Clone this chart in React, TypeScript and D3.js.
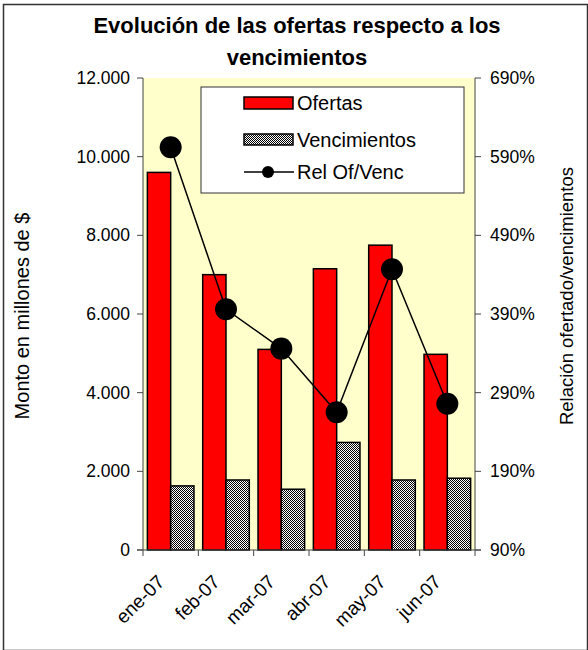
import React from "react";
import * as d3 from "d3";

const categories = ["ene-07", "feb-07", "mar-07", "abr-07", "may-07", "jun-07"];
const ofertas = [9600, 7000, 5100, 7150, 7750, 4975];
const vencimientos = [1630, 1780, 1545, 2735, 1780, 1825];
const relacion = [602, 396, 346, 265, 447, 276];
const leftTicks = [0, 2000, 4000, 6000, 8000, 10000, 12000];
const rightTicks = [90, 190, 290, 390, 490, 590, 690];
const seriesNames = ["Ofertas", "Vencimientos", "Rel Of/Venc"];
const titleLines = ["Evolución de las ofertas respecto a los", "vencimientos"];
const leftTitle = "Monto en millones de $";
const rightTitle = "Relación ofertado/vencimientos";

const FONT = "'Liberation Sans', Arial, Helvetica, sans-serif";

export default function App() {
  const W = 588;
  const H = 650;
  const left = 143;
  const right = 475;
  const top = 78;
  const bottom = 550;

  const x = d3.scaleBand<string>().domain(categories).range([left, right]).paddingInner(0).paddingOuter(0);
  const inner = d3
    .scaleBand<string>()
    .domain(["of", "ve"])
    .range([0, x.bandwidth()])
    .paddingInner(0)
    .paddingOuter(0.1875);
  const yL = d3.scaleLinear().domain([0, 12000]).range([bottom, top]);
  const yR = d3.scaleLinear().domain([90, 690]).range([bottom, top]);
  const loc = d3.formatLocale({ decimal: ",", thousands: ".", grouping: [3], currency: ["$", ""] });
  const fmt = loc.format(",d");

  const line = d3
    .line<number>()
    .x((_, i) => (x(categories[i]) as number) + x.bandwidth() / 2)
    .y((d) => yR(d));

  const bounds = [...categories.map((c) => x(c) as number), right];

  return (
    <svg width={W} height={H} style={{ position: "absolute", left: 0, top: 0 }} fontFamily={FONT}>
      <defs>
        <pattern id="checker" width={2} height={2} patternUnits="userSpaceOnUse">
          <rect x={0} y={0} width={2} height={2} fill="#ffffff" />
          <rect x={0} y={0} width={1} height={1} fill="#000000" />
          <rect x={1} y={1} width={1} height={1} fill="#000000" />
        </pattern>
      </defs>
      <rect x={0} y={0} width={W} height={H} fill="#ffffff" />
      <rect x={3.5} y={4.5} width={584} height={646} fill="none" stroke="#333" strokeWidth={1.5} />

      {/* Title */}
      {titleLines.map((t, i) => (
        <text key={i} x={297} y={33 + i * 32} textAnchor="middle" fontWeight="bold" fontSize={22} fill="#000">
          {t}
        </text>
      ))}

      {/* Plot area */}
      <rect x={left} y={top} width={right - left} height={bottom - top} fill="#FFFFCC" />

      {/* Bars */}
      {categories.map((c, i) => (
        <g key={c}>
          <rect
            x={(x(c) as number) + (inner("of") as number)}
            y={yL(ofertas[i])}
            width={inner.bandwidth()}
            height={bottom - yL(ofertas[i])}
            fill="#FF0000"
            stroke="#000"
            strokeWidth={1.5}
          />
          <rect
            x={(x(c) as number) + (inner("ve") as number)}
            y={yL(vencimientos[i])}
            width={inner.bandwidth()}
            height={bottom - yL(vencimientos[i])}
            fill="url(#checker)"
            stroke="#000"
            strokeWidth={1.5}
          />
        </g>
      ))}

      {/* Line */}
      <path d={line(relacion) || ""} fill="none" stroke="#000" strokeWidth={1.5} />
      {relacion.map((v, i) => (
        <circle key={i} cx={(x(categories[i]) as number) + x.bandwidth() / 2} cy={yR(v)} r={11} fill="#000" />
      ))}

      {/* Left axis */}
      <line x1={left} x2={left} y1={top} y2={bottom} stroke="#444" strokeWidth={1} />
      {leftTicks.map((t) => (
        <g key={t}>
          <line x1={left - 6} x2={left} y1={yL(t)} y2={yL(t)} stroke="#444" />
          <text x={left - 13} y={yL(t)} dy="0.35em" textAnchor="end" fontSize={17.5} fill="#000">
            {fmt(t)}
          </text>
        </g>
      ))}

      {/* Right axis */}
      <line x1={right} x2={right} y1={top} y2={bottom} stroke="#444" strokeWidth={1} />
      {rightTicks.map((t) => (
        <g key={t}>
          <line x1={right} x2={right + 6} y1={yR(t)} y2={yR(t)} stroke="#444" />
          <text x={right + 15} y={yR(t)} dy="0.35em" textAnchor="start" fontSize={17.5} fill="#000">
            {t + "%"}
          </text>
        </g>
      ))}

      {/* Bottom axis */}
      <line x1={left - 6} x2={right + 6} y1={bottom} y2={bottom} stroke="#444" strokeWidth={1} />
      {bounds.map((b, i) => (
        <line key={i} x1={b} x2={b} y1={bottom} y2={bottom + 6} stroke="#444" />
      ))}
      {categories.map((c) => (
        <text
          key={c}
          transform={`translate(${(x(c) as number) + x.bandwidth() / 2 - 5},${583}) rotate(-45)`}
          textAnchor="end"
          fontSize={19}
          fill="#000"
        >
          {c}
        </text>
      ))}

      {/* Axis titles */}
      <text transform={`translate(22,316) rotate(-90)`} textAnchor="middle" dy="0.35em" fontSize={20} fill="#000">
        {leftTitle}
      </text>
      <text transform={`translate(567,296) rotate(-90)`} textAnchor="middle" dy="0.35em" fontSize={18.5} fill="#000">
        {rightTitle}
      </text>

      {/* Legend */}
      <rect x={201} y={87} width={263} height={106} fill="#fff" stroke="#333" strokeWidth={1} />
      <rect x={244} y={97} width={49} height={12} fill="#FF0000" stroke="#000" strokeWidth={1.5} />
      <rect x={244} y={134} width={49} height={11} fill="url(#checker)" stroke="#000" strokeWidth={1.5} />
      <line x1={244} x2={294} y1={172} y2={172} stroke="#000" strokeWidth={1.5} />
      <circle cx={268} cy={172} r={6} fill="#000" />
      {seriesNames.map((s, i) => (
        <text key={s} x={297} y={[103, 140, 172][i]} dy="0.35em" fontSize={20} fill="#000">
          {s}
        </text>
      ))}
    </svg>
  );
}
